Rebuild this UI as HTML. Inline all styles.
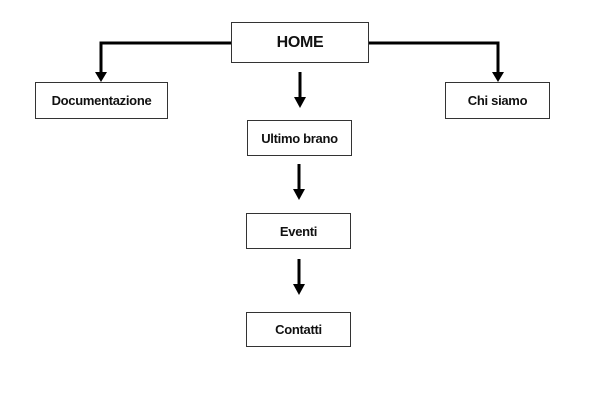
<!DOCTYPE html>
<html><head><style>
body{margin:0;background:#fff;}
.b{position:absolute;border:1px solid #333;background:#fff;box-sizing:border-box;display:flex;align-items:center;justify-content:center;font-family:"Liberation Sans",sans-serif;font-weight:bold;font-size:13px;color:#111;letter-spacing:-0.3px;}
</style></head><body>
<div style="position:relative;width:613px;height:405px;">
<svg width="613" height="405" style="position:absolute;left:0;top:0">
<g stroke="#000" stroke-width="3" fill="none">
<polyline points="231,43 101,43 101,74"/>
<polyline points="369,43 498,43 498,74"/>
<line x1="300" y1="72" x2="300" y2="99"/>
<line x1="299" y1="164" x2="299" y2="191"/>
<line x1="299" y1="259" x2="299" y2="286"/>
</g>
<g fill="#000">
<polygon points="95,72 107,72 101,82"/>
<polygon points="492,72 504,72 498,82"/>
<polygon points="294,97 306,97 300,108"/>
<polygon points="293,189 305,189 299,200"/>
<polygon points="293,284 305,284 299,295"/>
</g>
</svg>
<div class="b" style="left:231px;top:22px;width:138px;height:41px;font-size:16px;">HOME</div>
<div class="b" style="left:35px;top:82px;width:133px;height:37px;">Documentazione</div>
<div class="b" style="left:445px;top:82px;width:105px;height:37px;">Chi siamo</div>
<div class="b" style="left:247px;top:120px;width:105px;height:36px;">Ultimo brano</div>
<div class="b" style="left:246px;top:213px;width:105px;height:36px;">Eventi</div>
<div class="b" style="left:246px;top:312px;width:105px;height:35px;">Contatti</div>
</div>
</body></html>
